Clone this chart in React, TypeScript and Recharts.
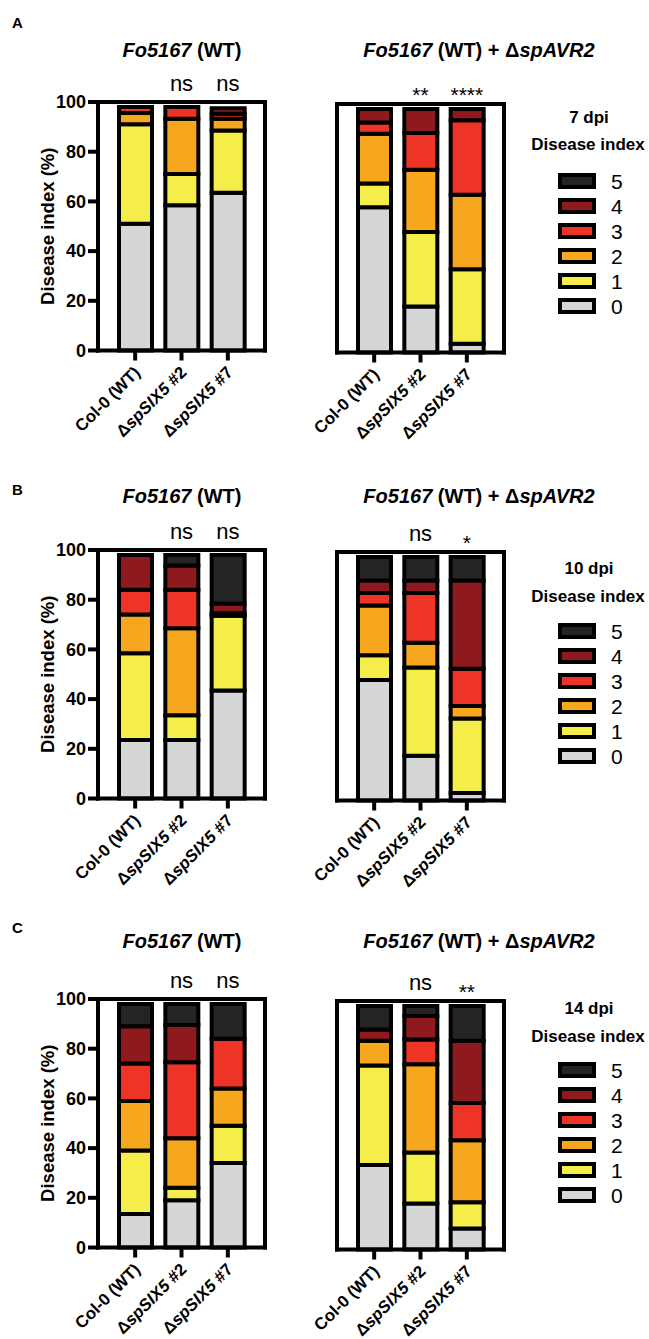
import React from 'react';
import { BarChart, Bar, XAxis, YAxis } from 'recharts';

const FONT = '"Liberation Sans", Arial, Helvetica, sans-serif';

const genotypes = ['Col-0 (WT)', 'ΔspSIX5 #2', 'ΔspSIX5 #7'];
const scores = ['0', '1', '2', '3', '4', '5'];
const scoreColors = ['#d5d6d6', '#f5ee4a', '#f7a71e', '#ee3427', '#8e1a1e', '#242424'];
const yTicks = [0, 20, 40, 60, 80, 100];

// % of plants per disease index 0..5, rows: Col-0, #2, #7
const wt7dpi = [[51, 40, 4.6, 2.4, 0, 0], [58.5, 12.5, 22.3, 4.7, 0, 0], [63.5, 25, 4.8, 2, 2.2, 0]];
const avr7dpi = [[58.5, 9.5, 20, 4.6, 5.4, 0], [18.5, 30, 25, 14.8, 9.7, 0], [3.5, 30, 30, 30, 4.5, 0]];
const wt10dpi = [[23.5, 35, 15.5, 10, 14, 0], [23.5, 10, 35, 15.5, 9.8, 4.2], [43.5, 30, 0, 1, 4, 19.5]];
const avr10dpi = [[48.5, 10, 20, 5, 5, 9.5], [18, 35.5, 10, 20, 5, 9.5], [3, 30, 5, 15, 35.5, 9.5]];
const wt14dpi = [[13.5, 25.5, 20, 15, 15, 9], [19, 5, 20, 30.5, 15, 8.5], [34, 15, 15, 20, 0, 14]];
const avr14dpi = [[34, 40, 10, 0, 4.5, 9.5], [18.5, 20.5, 35.5, 10, 9.5, 4], [8.5, 10.5, 25, 15, 25, 14]];

const sigWt7 = ['', 'ns', 'ns'];
const sigAvr7 = ['', '**', '****'];
const sigWt10 = ['', 'ns', 'ns'];
const sigAvr10 = ['', 'ns', '*'];
const sigWt14 = ['', 'ns', 'ns'];
const sigAvr14 = ['', 'ns', '**'];

const titleWt = 'Fo5167 (WT)';
const titleAvr = 'Fo5167 (WT) + ΔspAVR2';

const panels = [
  { letter: 'A', dpi: '7 dpi', wt: wt7dpi, avr: avr7dpi, sigWt: sigWt7, sigAvr: sigAvr7,
    plotTop: 102, letterY: 28, titleY: 57, dpiY: 117, diseaseY: 144, itemY: 181 },
  { letter: 'B', dpi: '10 dpi', wt: wt10dpi, avr: avr10dpi, sigWt: sigWt10, sigAvr: sigAvr10,
    plotTop: 550, letterY: 495, titleY: 503, dpiY: 568, diseaseY: 596, itemY: 631 },
  { letter: 'C', dpi: '14 dpi', wt: wt14dpi, avr: avr14dpi, sigWt: sigWt14, sigAvr: sigAvr14,
    plotTop: 999, letterY: 933, titleY: 948, dpiY: 1008, diseaseY: 1036, itemY: 1070 },
];

const PLOT_W = 167;
const PLOT_H = 248.5;
const TOP_M = 41;
const X_H = 115;
const frameLine = { stroke: '#000', strokeWidth: 4, strokeLinecap: 'square' as const };

const italicRe = /(Fo5167|sp[A-Z0-9]+)/;
const rich = (s: string) =>
  s.split(italicRe).filter(Boolean).map((p, i) => (
    <tspan key={i} fontStyle={italicRe.test(p) ? 'italic' : 'normal'}>{p}</tspan>
  ));

const toRows = (values: number[][]) =>
  genotypes.map((name, i) => {
    const row: { [key: string]: any } = { name };
    scores.forEach((s, j) => { row['s' + s] = values[i][j]; });
    return row;
  });

const SigTick = ({ x, y, index, labels }: any) => {
  const lab = labels[index];
  if (!lab) return null;
  const star = lab.startsWith('*');
  return (
    <text x={x} y={star ? y - 2.5 : y - 11} textAnchor="middle" fontFamily={FONT}
      fontSize={star ? 21 : 22} fill="#000">{lab}</text>
  );
};

const GenoTick = ({ x, y, payload }: any) => (
  <g transform={`translate(${x + 6},${y + 11}) rotate(-45)`}>
    <text textAnchor="end" fontFamily={FONT} fontSize={16.8} fontWeight={700} fill="#000">
      {rich(payload.value)}
    </text>
  </g>
);

const StackChart = ({ values, sig, withLabels }: any) => {
  const yw = withLabels ? 98 : 37;
  return (
    <BarChart
      width={yw + PLOT_W + 10}
      height={TOP_M + 1 + PLOT_H + X_H}
      data={toRows(values)}
      margin={{ top: TOP_M, right: 9, bottom: 0, left: 0 }}
      barSize={33}
    >
      <XAxis dataKey="name" xAxisId="sig" orientation="top" height={1} interval={0}
        padding={{ left: 14, right: 14 }} tickLine={false} tickSize={0} tickMargin={0}
        axisLine={frameLine} tick={<SigTick labels={sig} />} />
      <XAxis dataKey="name" height={X_H} interval={0} padding={{ left: 14, right: 14 }}
        tickSize={10} tickLine={{ stroke: '#000', strokeWidth: 4 }} axisLine={frameLine}
        tick={<GenoTick />} />
      <YAxis domain={[0, 100]} ticks={yTicks} width={yw} interval={0}
        tickSize={withLabels ? 10 : 4} tickLine={{ stroke: '#000', strokeWidth: withLabels ? 4 : 2 }}
        axisLine={frameLine}
        tick={withLabels ? { fill: '#000', fontSize: 18, fontWeight: 700, fontFamily: FONT } : false}
        label={withLabels ? {
          value: 'Disease index (%)', angle: -90, position: 'insideLeft', offset: 47,
          style: { textAnchor: 'middle', fontSize: 18.5, fontWeight: 700, fontFamily: FONT, fill: '#000' },
        } : undefined}
      />
      <YAxis yAxisId="frame" orientation="right" width={1} domain={[0, 100]}
        tick={false} tickLine={false} axisLine={frameLine} />
      {scores.map((s, i) => (
        <Bar key={s} dataKey={'s' + s} stackId="a" fill={scoreColors[i]} stroke="#000"
          strokeWidth={4} isAnimationActive={false} />
      ))}
    </BarChart>
  );
};

export default function App() {
  return (
    <div style={{ position: 'absolute', left: 0, top: 0, width: 649, height: 1339, overflow: 'hidden', background: '#fff', fontFamily: FONT }}>
      {panels.map(p => (
        <React.Fragment key={p.letter}>
          <div style={{ position: 'absolute', left: 0, top: p.plotTop - TOP_M - 1 }}>
            <StackChart values={p.wt} sig={p.sigWt} withLabels />
          </div>
          <div style={{ position: 'absolute', left: 300, top: p.plotTop + 1.5 - TOP_M - 1 }}>
            <StackChart values={p.avr} sig={p.sigAvr} withLabels={false} />
          </div>
        </React.Fragment>
      ))}
      <svg width={649} height={1339} style={{ position: 'absolute', left: 0, top: 0, pointerEvents: 'none' }}
        fontFamily={FONT}>
        {panels.map(p => (
          <g key={p.letter}>
            <text x={12} y={p.letterY} fontSize={15} fontWeight={700}>{p.letter}</text>
            <text x={182} y={p.titleY} fontSize={20} fontWeight={700} textAnchor="middle">{rich(titleWt)}</text>
            <text x={479} y={p.titleY} fontSize={20} fontWeight={700} textAnchor="middle">{rich(titleAvr)}</text>
            <text x={589} y={p.dpiY + 6} fontSize={17} fontWeight={700} textAnchor="middle">{p.dpi}</text>
            <text x={588} y={p.diseaseY + 6} fontSize={17} fontWeight={700} textAnchor="middle">Disease index</text>
            {scores.slice().reverse().map((s, k) => (
              <g key={s}>
                <rect x={560} y={p.itemY + k * 25 - 6} width={34} height={12}
                  fill={scoreColors[Number(s)]} stroke="#000" strokeWidth={4} />
                <text x={611} y={p.itemY + k * 25 + 7.5} fontSize={21}>{s}</text>
              </g>
            ))}
          </g>
        ))}
      </svg>
    </div>
  );
}
